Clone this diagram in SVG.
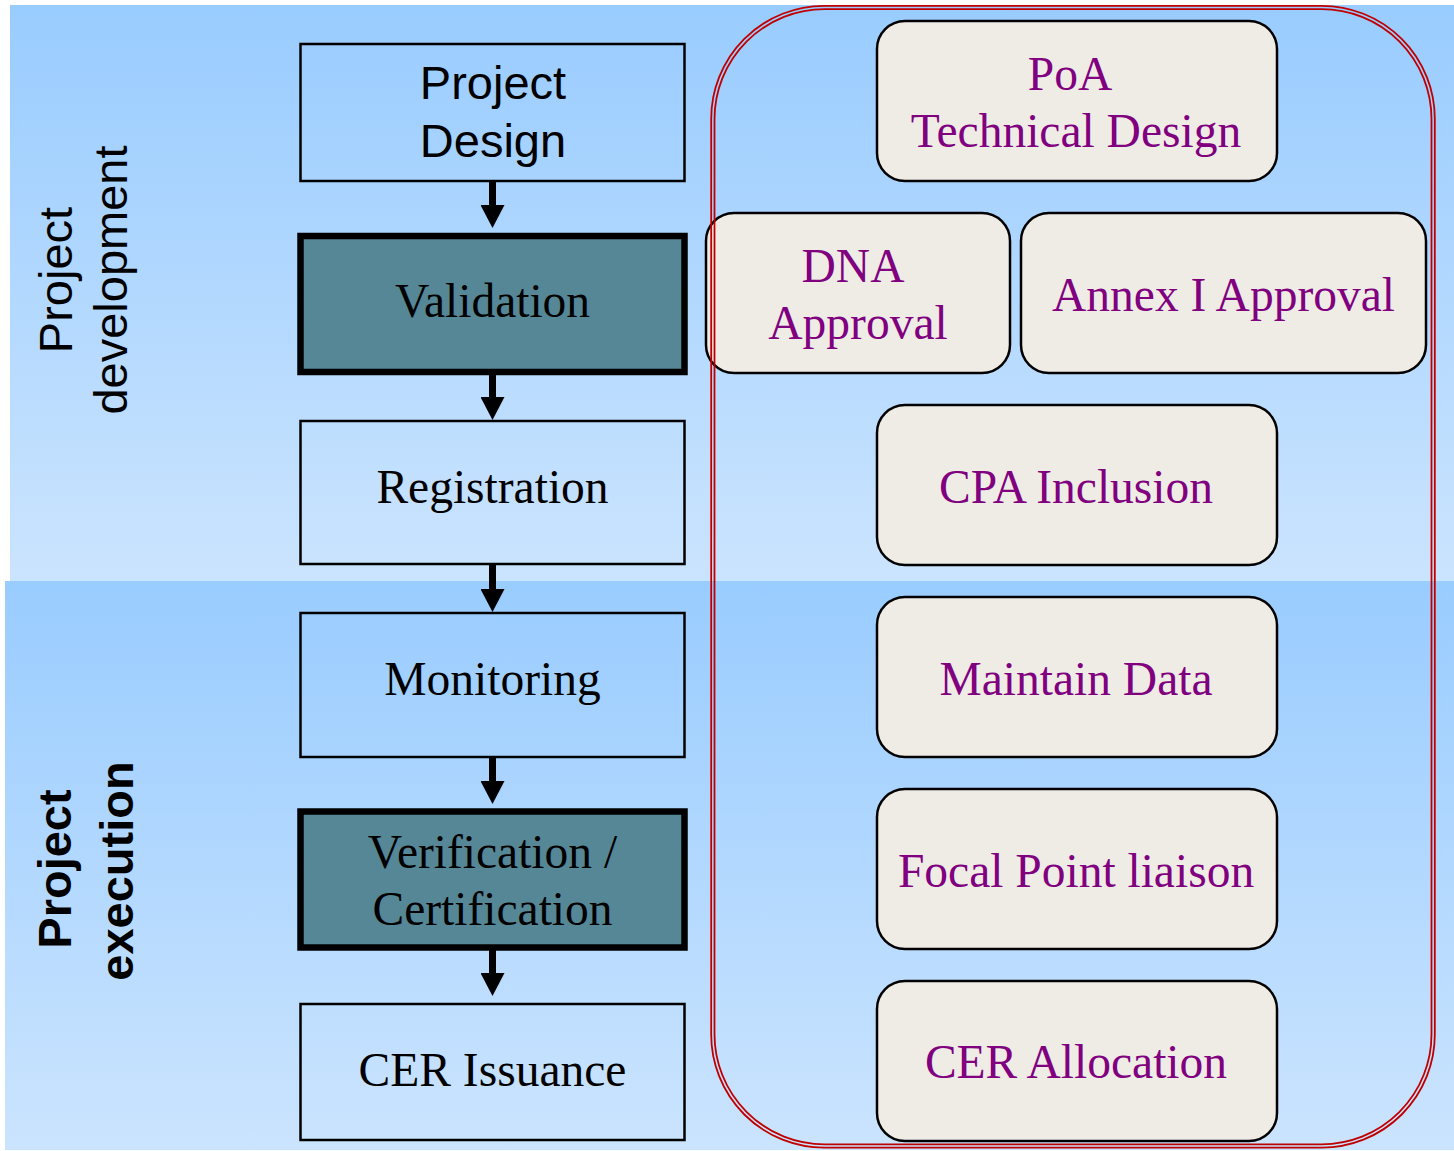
<svg xmlns="http://www.w3.org/2000/svg" width="1454" height="1151" viewBox="0 0 1454 1151">
<defs>
<linearGradient id="bg" x1="0" y1="0" x2="0" y2="1">
<stop offset="0" stop-color="#99ccff"/>
<stop offset="1" stop-color="#cbe4fe"/>
</linearGradient>
<marker id="ah" markerUnits="userSpaceOnUse" markerWidth="23" markerHeight="24" viewBox="0 0 23 24" refX="0" refY="12" orient="auto">
<path d="M0,0 L23,12 L0,24 z" fill="#000"/>
</marker>
<style>
.box{fill:none;stroke:#000;stroke-width:2.5}
.dark{fill:#568797;stroke:#000;stroke-width:6.5}
.rbox{fill:#efece6;stroke:#000;stroke-width:2.5}
.sans{font-family:"Liberation Sans",Arial,sans-serif;font-size:47px;fill:#000}
.bold{font-weight:bold}
.serif{font-family:"Liberation Serif","Times New Roman",serif;font-size:47.5px;fill:#000;text-anchor:middle}
.purple{fill:#800080}
.conn{stroke:#000;stroke-width:7;fill:none}
.red{fill:none;stroke:#c00000;stroke-width:1.8}
</style>
</defs>
<g id="background">
<rect x="10" y="5" width="1444" height="576" fill="url(#bg)"/>
<rect x="5" y="581" width="1449" height="569" fill="url(#bg)"/>
</g>
<g id="label-development" class="sans" text-anchor="middle">
<text transform="translate(72,280) rotate(-90)">Project</text>
<text transform="translate(127,280) rotate(-90)">development</text>
</g>
<g id="label-execution" class="sans bold" text-anchor="middle">
<text transform="translate(71,869) rotate(-90)">Project</text>
<text transform="translate(133,871) rotate(-90)">execution</text>
</g>
<g id="node-project-design">
<rect class="box" x="300.5" y="44" width="384" height="137"/>
<text class="sans" text-anchor="middle" x="493" y="99">Project</text>
<text class="sans" text-anchor="middle" x="493" y="157">Design</text>
</g>
<g id="node-validation">
<rect class="dark" x="300.5" y="236" width="384" height="136"/>
<text class="serif" x="492.5" y="317">Validation</text>
</g>
<g id="node-registration">
<rect class="box" x="300.5" y="421" width="384" height="143"/>
<text class="serif" x="492.5" y="503">Registration</text>
</g>
<g id="node-monitoring">
<rect class="box" x="300.5" y="613" width="384" height="144"/>
<text class="serif" x="492.5" y="695">Monitoring</text>
</g>
<g id="node-verification">
<rect class="dark" x="300.5" y="811.5" width="384" height="136"/>
<text class="serif" x="492.5" y="868">Verification /</text>
<text class="serif" x="492.5" y="925">Certification</text>
</g>
<g id="node-cer-issuance">
<rect class="box" x="300.5" y="1004" width="384" height="136"/>
<text class="serif" x="492.5" y="1086">CER Issuance</text>
</g>
<g id="connectors">
<line class="conn" x1="492.5" y1="182" x2="492.5" y2="205" marker-end="url(#ah)"/>
<line class="conn" x1="492.5" y1="375" x2="492.5" y2="397" marker-end="url(#ah)"/>
<line class="conn" x1="492.5" y1="565" x2="492.5" y2="589" marker-end="url(#ah)"/>
<line class="conn" x1="492.5" y1="758" x2="492.5" y2="781" marker-end="url(#ah)"/>
<line class="conn" x1="492.5" y1="950" x2="492.5" y2="973" marker-end="url(#ah)"/>
</g>
<g id="node-poa">
<rect class="rbox" x="877" y="21" width="400" height="160" rx="28"/>
<text class="serif purple" x="1070" y="90">PoA</text>
<text class="serif purple" x="1076" y="147">Technical Design</text>
</g>
<g id="node-dna">
<rect class="rbox" x="706" y="213" width="304" height="160" rx="28"/>
<text class="serif purple" x="853" y="282">DNA</text>
<text class="serif purple" x="858" y="339">Approval</text>
</g>
<g id="node-annex">
<rect class="rbox" x="1021" y="213" width="405" height="160" rx="28"/>
<text class="serif purple" x="1223.5" y="311">Annex I Approval</text>
</g>
<g id="node-cpa">
<rect class="rbox" x="877" y="405" width="400" height="160" rx="28"/>
<text class="serif purple" x="1076" y="503">CPA Inclusion</text>
</g>
<g id="node-maintain">
<rect class="rbox" x="877" y="597" width="400" height="160" rx="28"/>
<text class="serif purple" x="1076" y="695">Maintain Data</text>
</g>
<g id="node-focal">
<rect class="rbox" x="877" y="789" width="400" height="160" rx="28"/>
<text class="serif purple" x="1076" y="887">Focal Point liaison</text>
</g>
<g id="node-cer-allocation">
<rect class="rbox" x="877" y="981" width="400" height="160" rx="28"/>
<text class="serif purple" x="1076" y="1078">CER Allocation</text>
</g>
<g id="frame">
<rect class="red" x="711.2" y="5.8" width="723.6" height="1141.8" rx="113" ry="113"/>
<rect class="red" x="714.5" y="9.1" width="717" height="1135.2" rx="110" ry="110"/>
</g>
</svg>
